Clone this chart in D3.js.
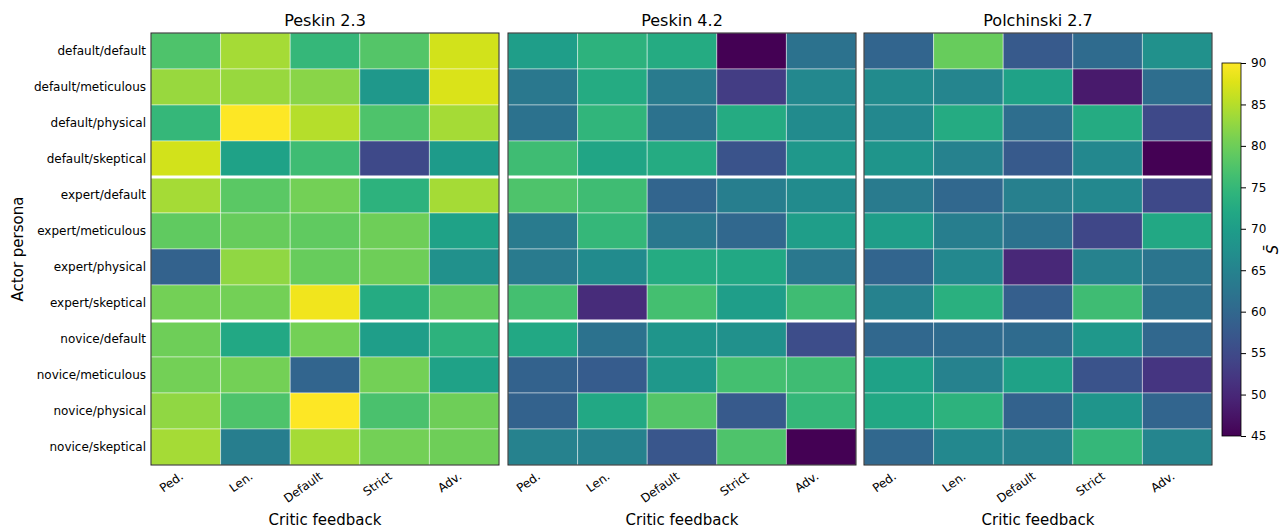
<!DOCTYPE html>
<html><head><meta charset="utf-8">
<script src="https://cdn.jsdelivr.net/npm/d3@7"></script>
<style>body{margin:0;background:#fff}svg{font-family:"DejaVu Sans",sans-serif}</style>
</head><body><svg id="c" width="1285" height="529"></svg>
<script>
const rows = ["default/default","default/meticulous","default/physical","default/skeptical",
"expert/default","expert/meticulous","expert/physical","expert/skeptical",
"novice/default","novice/meticulous","novice/physical","novice/skeptical"];
const cols = ["Ped.","Len.","Default","Strict","Adv."];
const titles = ["Peskin 2.3","Peskin 4.2","Polchinski 2.7"];
const peskin23 = [
 [77.5,84,75,78,87],
 [83,83,82,69,87.5],
 [75,90,85,77.5,84],
 [87,71,76,55,69.5],
 [84,78.5,80.5,74,84],
 [79,79.5,79,80,71],
 [59,82.5,79.5,80,67.5],
 [80.5,80.5,89,72.5,79],
 [80,72,80.5,70,74],
 [80.5,80.5,59.5,80.5,71],
 [82.5,77.5,90,77,80],
 [84,64,84,80.5,80]];
const peskin42 = [
 [70,74,72.5,45,62],
 [63,72.5,63.5,53,66],
 [62,74.5,62,72.5,66.5],
 [76,71.5,72.5,56.5,69],
 [77.5,76,59.5,64,66.5],
 [63.5,75,63,60,70],
 [63.5,66.5,72.5,72,63],
 [76.5,50.5,76.5,70,76],
 [72,62,68.5,67.5,55.5],
 [59,58,69,76.5,76],
 [59,72,78,57.5,75],
 [65,65,57,77.5,45]];
const polchinski27 = [
 [59.5,79.5,57.5,60.5,67.5],
 [66.5,65.5,71,48,61],
 [66,72.5,61,72.5,55],
 [68.5,65,57.5,66,45],
 [63.5,60,64.5,66,55],
 [70,64,62,54.5,72],
 [59.5,66,50,65,62.5],
 [65,73.5,58.5,76,61.5],
 [60,60.5,60.5,69,60],
 [71,65,71,56.5,52],
 [72,74,59,68.5,59.5],
 [60,66,65,75,65.5]];
const panels = [peskin23, peskin42, polchinski27];
const cbTicks = [45,50,55,60,65,70,75,80,85,90];

const FONT = "DejaVu Sans";
const svg = d3.select("#c");
const color = d3.scaleSequential(d3.interpolateViridis).domain([45,90]);
const panelX = [151, 508, 864], pw = 348, pTop = 33, ph = 432;
const y = d3.scaleBand().domain(rows).range([pTop, pTop+ph]);

// rotated x tick label placement (matplotlib-like: rotation 35, ha right, va top)
const rot = 35, th = rot*Math.PI/180, fs = 12, hTxt = fs*1.17, desc = fs*0.24, y0 = pTop+ph+4;

panels.forEach((data, pi) => {
  const x = d3.scaleBand().domain(cols).range([panelX[pi], panelX[pi]+pw]);
  const g = svg.append("g");
  const cells = [];
  data.forEach((r, ri) => r.forEach((v, ci) => cells.push({r: rows[ri], c: cols[ci], v})));
  g.selectAll("rect.cell").data(cells).join("rect")
    .attr("x", d => x(d.c)).attr("y", d => y(d.r))
    .attr("width", x.bandwidth()).attr("height", y.bandwidth())
    .attr("fill", d => color(d.v))
    .attr("stroke", "rgba(255,255,255,0.45)").attr("stroke-width", 1);
  [4, 8].forEach(k => {
    g.append("line").attr("x1", panelX[pi]).attr("x2", panelX[pi]+pw)
      .attr("y1", y(rows[k])).attr("y2", y(rows[k]))
      .attr("stroke", "#fff").attr("stroke-width", 3);
  });
  g.append("rect").attr("x", panelX[pi]).attr("y", pTop).attr("width", pw).attr("height", ph)
    .attr("fill", "none").attr("stroke", "#222").attr("stroke-width", 1);
  const xa = svg.append("g").attr("transform", `translate(0,${pTop+ph})`)
    .call(d3.axisBottom(x).tickSize(0).tickPadding(0));
  xa.attr("font-family", FONT);
  xa.select(".domain").remove();
  xa.selectAll("line").remove();
  const bx = 0, by = (y0 - (pTop+ph)) + hTxt*Math.cos(th);
  const ax = bx - desc*Math.sin(th), ay = by - desc*Math.cos(th);
  xa.selectAll("text").attr("font-size", fs).attr("fill", "#000")
    .attr("text-anchor", "end").attr("dy", null).attr("y", 0)
    .attr("transform", `translate(${ax},${ay}) rotate(${-rot})`);
  svg.append("text").attr("x", panelX[pi]+pw/2).attr("y", 525).attr("text-anchor", "middle")
    .attr("font-size", 15).text("Critic feedback");
  svg.append("text").attr("x", panelX[pi]+pw/2).attr("y", 26).attr("text-anchor", "middle")
    .attr("font-size", 16).text(titles[pi]);
  if (pi === 0) {
    const ya = svg.append("g").attr("transform", `translate(${panelX[0]},0)`)
      .call(d3.axisLeft(y).tickSize(0).tickPadding(5));
    ya.attr("font-family", FONT);
    ya.select(".domain").remove();
    ya.selectAll("line").remove();
    ya.selectAll("text").attr("font-size", 12).attr("fill", "#000");
  }
});
svg.append("text").attr("transform", `translate(23,${pTop+ph/2}) rotate(-90)`)
  .attr("text-anchor", "middle").attr("font-size", 15).text("Actor persona");

const cbx = 1222, cbw = 19, cbTop = 63, cbBot = 436;
const defs = svg.append("defs");
const grad = defs.append("linearGradient").attr("id", "vg").attr("x1", 0).attr("y1", 1).attr("x2", 0).attr("y2", 0);
d3.range(0, 1.0001, 0.05).forEach(t => grad.append("stop").attr("offset", t).attr("stop-color", d3.interpolateViridis(t)));
svg.append("rect").attr("x", cbx).attr("y", cbTop).attr("width", cbw).attr("height", cbBot-cbTop)
  .attr("fill", "url(#vg)").attr("stroke", "#000").attr("stroke-width", 0.8);
const cy = d3.scaleLinear().domain([45,90]).range([cbBot, cbTop]);
const ca = svg.append("g").attr("transform", `translate(${cbx+cbw},0)`)
  .call(d3.axisRight(cy).tickValues(cbTicks).tickSize(5).tickPadding(5));
ca.attr("font-family", FONT);
ca.select(".domain").remove();
ca.selectAll("line").attr("stroke", "#000");
ca.selectAll("text").attr("font-size", 12).attr("fill", "#000");
svg.append("text").attr("transform", `translate(1278,${(cbTop+cbBot)/2}) rotate(-90)`)
  .attr("text-anchor", "middle").attr("font-size", 15).attr("font-style", "italic").text("S\u0304");
</script></body></html>
